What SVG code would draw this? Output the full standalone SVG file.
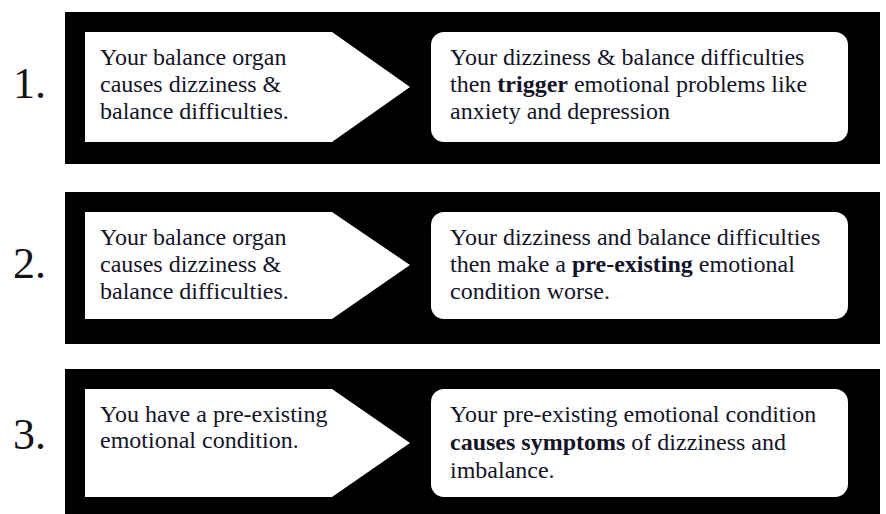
<svg xmlns="http://www.w3.org/2000/svg" width="886" height="514" viewBox="0 0 886 514">
<style>
.bg{fill:#000}
.shape{fill:#fff}
.t{font-family:"Liberation Serif","Times New Roman",serif;font-size:24px;fill:#141428}
.num{font-family:"Liberation Serif","Times New Roman",serif;font-size:44px;fill:#141418}
.b{font-weight:bold}
</style>
<rect width="886" height="514" fill="#fff"/>
<g id="panel1">
<rect class="bg" x="65" y="12" width="815" height="152"/>
<text class="num" x="13" y="98">1.</text>
<g id="p1-cause">
<polygon class="shape" points="85,32 332,32 410,87 332,142 85,142"/>
<text class="t" x="100" y="65">Your balance organ</text>
<text class="t" x="100" y="92">causes dizziness &amp;</text>
<text class="t" x="100" y="119">balance difficulties.</text>
</g>
<g id="p1-effect">
<rect class="shape" x="431" y="32" width="417" height="110" rx="13"/>
<text class="t" x="450" y="65">Your dizziness &amp; balance difficulties</text>
<text class="t" x="450" y="92">then <tspan class="b">trigger</tspan> emotional problems like</text>
<text class="t" x="450" y="119">anxiety and depression</text>
</g>
</g>
<g id="panel2">
<rect class="bg" x="65" y="192" width="815" height="152"/>
<text class="num" x="13" y="278">2.</text>
<g id="p2-cause">
<polygon class="shape" points="85,212 332,212 410,265 332,319 85,319"/>
<text class="t" x="100" y="245">Your balance organ</text>
<text class="t" x="100" y="272">causes dizziness &amp;</text>
<text class="t" x="100" y="299">balance difficulties.</text>
</g>
<g id="p2-effect">
<rect class="shape" x="431" y="212" width="417" height="107" rx="13"/>
<text class="t" x="450" y="245">Your dizziness and balance difficulties</text>
<text class="t" x="450" y="272">then make a <tspan class="b">pre-existing</tspan> emotional</text>
<text class="t" x="450" y="299">condition worse.</text>
</g>
</g>
<g id="panel3">
<rect class="bg" x="65" y="369" width="815" height="145"/>
<text class="num" x="13" y="449">3.</text>
<g id="p3-cause">
<polygon class="shape" points="85,389 332,389 410,443 332,497 85,497"/>
<text class="t" x="100" y="422">You have a pre-existing</text>
<text class="t" x="100" y="448">emotional condition.</text>
</g>
<g id="p3-effect">
<rect class="shape" x="431" y="389" width="417" height="108" rx="13"/>
<text class="t" x="450" y="422">Your pre-existing emotional condition</text>
<text class="t" x="450" y="450"><tspan class="b">causes symptoms</tspan> of dizziness and</text>
<text class="t" x="450" y="478">imbalance.</text>
</g>
</g>
<g id="connectors"></g>
</svg>
